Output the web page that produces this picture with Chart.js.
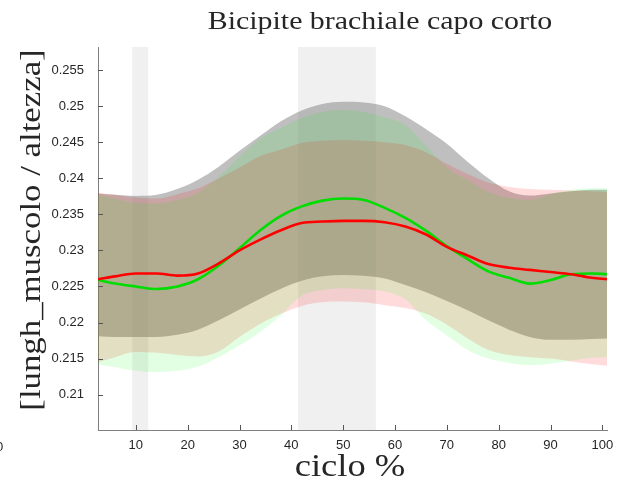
<!DOCTYPE html>
<html>
<head>
<meta charset="utf-8">
<script src="https://cdn.jsdelivr.net/npm/chart.js@4/dist/chart.umd.min.js"></script>
<style>
html,body{margin:0;padding:0;background:#fff;overflow:hidden}
#wrap{position:relative;width:624px;height:495px}
.lbl{position:absolute;font-family:"Liberation Serif","Times New Roman",serif;color:#262626;white-space:nowrap;line-height:1}
#titolo{left:380px;top:8px;font-size:26px;transform:translateX(-50%) scaleX(1.15)}
#ylab{left:30px;top:230px;font-size:29px;transform:translate(-50%,-50%) rotate(-90deg) scaleX(1.2)}
#xlab{left:350px;top:450px;font-size:31px;transform:translateX(-50%) scaleX(1.18)}
#frammento{left:-4px;top:440px;font-family:"Liberation Sans",Arial,sans-serif;font-size:13px;color:#262626;line-height:1}
</style>
</head>
<body>
<div id="wrap">
  <canvas id="grafico" width="624" height="495"></canvas>
  <div class="lbl" id="titolo">Bicipite brachiale capo corto</div>
  <div class="lbl" id="ylab">[lungh_muscolo / altezza]</div>
  <div class="lbl" id="xlab">ciclo %</div>
  <div class="lbl" id="frammento">0</div>
</div>
<script>
// % del ciclo (campioni)
const ciclo=[2.7,6,10,14,18,22,26,30,34,38,42,46,50,54,58,62,66,70,74,78,82,86,90,94,98,100.9];
// medie
const mediaRossa=[0.2260,0.2264,0.2268,0.2268,0.2265,0.2268,0.2282,0.2300,0.2315,0.2328,0.2338,0.2340,0.2341,0.2341,0.2339,0.2333,0.2322,0.2305,0.2293,0.2281,0.2276,0.2273,0.2270,0.2267,0.2262,0.2260];
const mediaVerde=[0.2259,0.2254,0.2250,0.22465,0.2250,0.2260,0.2279,0.2303,0.2328,0.2348,0.2361,0.2369,0.2372,0.2370,0.2359,0.2345,0.2327,0.2306,0.2288,0.2271,0.2262,0.2254,0.2259,0.2267,0.2268,0.2267];
// fasce (media ± ds)
const grigioSup=[0.2379,0.2377,0.23755,0.2377,0.2385,0.2398,0.2416,0.2438,0.2459,0.2479,0.2494,0.2503,0.2506,0.2505,0.2500,0.2486,0.2468,0.2448,0.2423,0.2400,0.2382,0.2376,0.2379,0.2382,0.2384,0.2384];
const grigioInf=[0.2181,0.2180,0.2180,0.2180,0.2183,0.2190,0.2203,0.2218,0.2233,0.2247,0.2258,0.2264,0.2266,0.2265,0.2261,0.2252,0.2242,0.2230,0.2217,0.2203,0.2190,0.2180,0.2176,0.2176,0.2177,0.2178];
const rossoSup=[0.2380,0.2377,0.2373,0.2372,0.2378,0.2386,0.2400,0.2415,0.2431,0.2440,0.2449,0.2452,0.2453,0.2452,0.2450,0.2446,0.2436,0.2420,0.2406,0.2394,0.2388,0.2385,0.2384,0.2383,0.2382,0.2381];
const rossoInf=[0.2145,0.2152,0.2159,0.2158,0.2155,0.2153,0.2160,0.2180,0.2198,0.2212,0.2223,0.2228,0.2229,0.2228,0.2224,0.2220,0.2212,0.2197,0.2178,0.2162,0.2155,0.2152,0.2150,0.2146,0.2142,0.2140];
const verdeSup=[0.2377,0.2372,0.2366,0.2365,0.2370,0.2380,0.2402,0.2430,0.2455,0.2470,0.2484,0.2492,0.2495,0.2492,0.2485,0.2474,0.2445,0.2415,0.2398,0.2381,0.2373,0.2370,0.2378,0.2384,0.2386,0.2386];
const verdeInf=[0.2142,0.2138,0.2133,0.2131,0.2133,0.2139,0.2152,0.2168,0.2187,0.2210,0.2237,0.2245,0.22475,0.2246,0.2243,0.2232,0.2203,0.2182,0.2162,0.2150,0.2144,0.2141,0.2143,0.2147,0.2151,0.2152];
// fasi evidenziate (intervalli di ciclo %)
const fasi=[[9.3,12.4],[41.3,56.3]];
// tacche
const tickX=[10,20,30,40,50,60,70,80,90,100];
const tickY=[0.21,0.215,0.22,0.225,0.23,0.235,0.24,0.245,0.25,0.255];

const punti=a=>ciclo.map((x,i)=>({x:x,y:a[i]}));
function banda(sup,inf,col,ord){
  return [
    {data:punti(sup),borderWidth:0,borderColor:'transparent',pointRadius:0,fill:false,order:ord,cubicInterpolationMode:'monotone'},
    {data:punti(inf),borderWidth:0,borderColor:'transparent',pointRadius:0,fill:'-1',backgroundColor:col,order:ord,cubicInterpolationMode:'monotone'}
  ];
}

const sfondoFasi={id:'sfondoFasi',beforeDatasetsDraw(c){
  const {ctx,chartArea:a,scales:{x}}=c;
  ctx.save();ctx.fillStyle='#f0f0f0';
  fasi.forEach(f=>{const x0=x.getPixelForValue(f[0]),x1=x.getPixelForValue(f[1]);ctx.fillRect(x0,a.top,x1-x0,a.bottom-a.top);});
  ctx.restore();
}};
// tacche verso l'interno come in matlab
const tacche={id:'tacche',afterDatasetsDraw(c){
  const {ctx,chartArea:a,scales:{x,y}}=c;
  ctx.save();ctx.strokeStyle='#555';ctx.lineWidth=1;ctx.beginPath();
  x.ticks.forEach(t=>{const p=Math.round(x.getPixelForValue(t.value))+0.5;ctx.moveTo(p,a.bottom);ctx.lineTo(p,a.bottom-5);});
  y.ticks.forEach(t=>{const p=Math.round(y.getPixelForValue(t.value))+0.5;ctx.moveTo(a.left,p);ctx.lineTo(a.left+5,p);});
  ctx.stroke();ctx.restore();
}};

const fontTick={family:'"Liberation Sans",Arial,sans-serif',size:13};
new Chart(document.getElementById('grafico'),{
  type:'line',
  data:{datasets:[
    ...banda(grigioSup,grigioInf,'rgba(128,128,128,0.5)',5),
    ...banda(rossoSup,rossoInf,'rgba(255,0,0,0.14)',4),
    ...banda(verdeSup,verdeInf,'rgba(0,255,0,0.11)',3),
    {data:punti(mediaVerde),borderColor:'#00dd00',borderWidth:2.6,pointRadius:0,fill:false,order:1,cubicInterpolationMode:'monotone'},
    {data:punti(mediaRossa),borderColor:'#ff0000',borderWidth:2.6,pointRadius:0,fill:false,order:0,cubicInterpolationMode:'monotone'}
  ]},
  options:{
    responsive:false,animation:false,events:[],
    layout:{padding:{left:0,top:47,right:17,bottom:0}},
    plugins:{legend:{display:false},tooltip:{enabled:false}},
    scales:{
      x:{type:'linear',min:2.7,max:100.9,
        afterBuildTicks:s=>{s.ticks=tickX.map(v=>({value:v}));},
        afterFit:s=>{s.height=65;},
        grid:{display:false,drawTicks:false},
        border:{display:true,color:'#7f7f7f',width:1},
        ticks:{padding:8,color:'#262626',font:fontTick,maxRotation:0,autoSkip:false}},
      y:{type:'linear',min:0.2051,max:0.2582,
        afterBuildTicks:s=>{s.ticks=tickY.map(v=>({value:v}));},
        afterFit:s=>{s.width=98;},
        grid:{display:false,drawTicks:false},
        border:{display:true,color:'#7f7f7f',width:1},
        ticks:{padding:14,color:'#262626',font:fontTick,autoSkip:false,callback:v=>String(+Number(v).toFixed(3))}}
    }
  },
  plugins:[sfondoFasi,tacche]
});
</script>
</body>
</html>
